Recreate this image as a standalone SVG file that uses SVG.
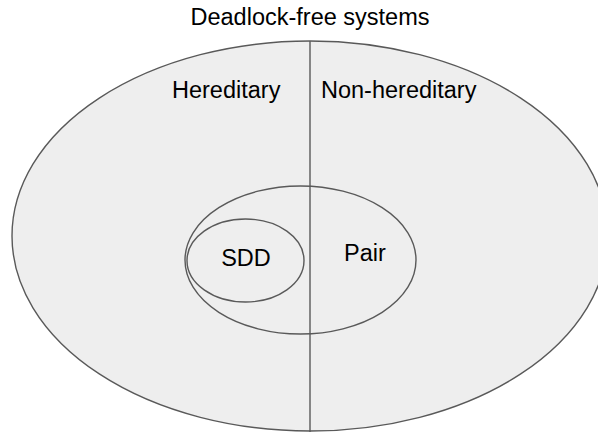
<svg xmlns="http://www.w3.org/2000/svg" width="598" height="432" viewBox="0 0 598 432">
  <style>
    .set { fill: #eeeeee; stroke: #595959; stroke-width: 1.4; }
    .inner { fill: none; stroke: #595959; stroke-width: 1.4; }
    .lbl { font-family: "Liberation Sans", Arial, sans-serif; font-size: 23.5px; fill: #000000; }
  </style>
  <rect width="598" height="432" fill="#ffffff"/>
  <text class="lbl" x="310" y="25" text-anchor="middle">Deadlock-free systems</text>
  <g id="deadlock-free">
    <ellipse class="set" cx="310" cy="236" rx="298" ry="195"/>
  </g>
  <g id="divider">
    <line x1="310" y1="41" x2="310" y2="432" stroke="#595959" stroke-width="1.4"/>
  </g>
  <g id="hereditary">
    <text class="lbl" x="172" y="98">Hereditary</text>
  </g>
  <g id="non-hereditary">
    <text class="lbl" x="321" y="98">Non-hereditary</text>
  </g>
  <g id="pair">
    <ellipse class="inner" cx="300.5" cy="260" rx="115.5" ry="74"/>
    <text class="lbl" x="344" y="261">Pair</text>
  </g>
  <g id="sdd">
    <ellipse class="inner" cx="245.5" cy="260.5" rx="58.5" ry="41.5"/>
    <text class="lbl" x="246" y="266" text-anchor="middle">SDD</text>
  </g>
</svg>
